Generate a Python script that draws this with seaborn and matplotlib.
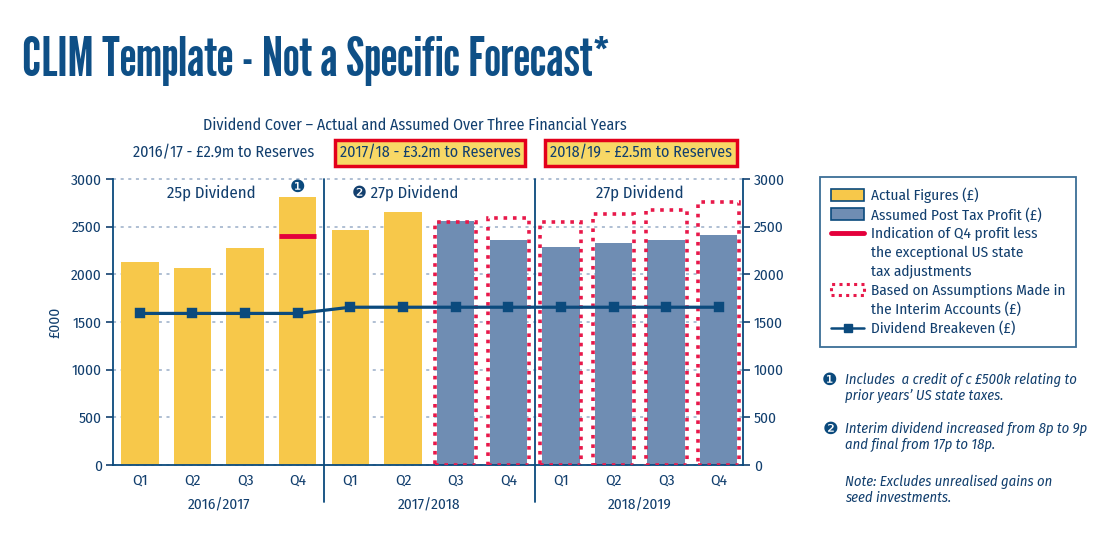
import numpy as np
import pandas as pd
import matplotlib
matplotlib.use("Agg")
import matplotlib.pyplot as plt
import seaborn as sns
from matplotlib.patches import Patch
from matplotlib.lines import Line2D
import matplotlib.transforms as mtrans

# ---------------- data ----------------
years = ["2016/2017", "2017/2018", "2018/2019"]
quarters = ["Q1", "Q2", "Q3", "Q4"]
profit = [2130, 2070, 2280, 2810, 2470, 2650, 2560, 2360, 2290, 2330, 2360, 2410]
kind = ["Actual Figures (£)"] * 6 + ["Assumed Post Tax Profit (£)"] * 6
interim = [None] * 6 + [2550, 2590, 2550, 2630, 2680, 2760]
breakeven = [1590, 1590, 1590, 1590, 1655, 1655, 1655, 1655, 1655, 1655, 1655, 1655]
q4_ex_adjust = 2400
dividend_labels = ["25p Dividend", "❷ 27p Dividend", "27p Dividend"]
reserves = ["2016/17 - £2.9m to Reserves", "2017/18 - £3.2m to Reserves", "2018/19 - £2.5m to Reserves"]
yticks = [0, 500, 1000, 1500, 2000, 2500, 3000]

keys = [f"{y} {q}" for y in years for q in quarters]
df = pd.DataFrame({"key": keys, "profit": profit, "kind": kind,
                   "interim": interim, "breakeven": breakeven})

# ---------------- style ----------------
NAVY = "#123f6e"
LINE = "#0b4a7d"
YELLOW = "#f7c84a"
BLUE = "#6f8db3"
RED = "#e4003b"
DOTRED = "#e8194a"
GRID = "#9aaec8"

sns.set_theme(style="white")
FAM = ["Fira Sans Condensed", "DejaVu Sans"]
TITLE_FAM = ["League Gothic", "Fira Sans Extra Condensed", "DejaVu Sans"]
plt.rcParams["font.family"] = FAM
plt.rcParams["text.color"] = NAVY

W, H = 1099, 538
fig = plt.figure(figsize=(W / 100, H / 100), dpi=100)
ax = fig.add_axes([113 / W, 1 - 465 / H, 630 / W, 286 / H])

# bars
sns.barplot(data=df, x="key", y="profit", hue="kind", order=keys, dodge=False,
            palette={"Actual Figures (£)": YELLOW, "Assumed Post Tax Profit (£)": BLUE},
            saturation=1, width=0.71, errorbar=None, legend=False, ax=ax, zorder=2, linewidth=0)
# dotted assumption boxes
sns.barplot(data=df.dropna(subset=["interim"]), x="key", y="interim", order=keys,
            fill=False, color=DOTRED, saturation=1, width=0.78, errorbar=None, ax=ax,
            linewidth=2.6, linestyle=(0, (1, 1.6)), zorder=3)
for p in ax.patches[-6:]:
    p.set_edgecolor(DOTRED)
    p.set_facecolor("none")

# Q4 underlying line
ax.hlines(q4_ex_adjust, 3 - 0.355, 3 + 0.355, color=RED, lw=3.5, zorder=4)

# breakeven line
sns.pointplot(data=df, x="key", y="breakeven", order=keys, color=LINE, markers="s",
              markersize=6, linewidth=2.3, errorbar=None, ax=ax, zorder=5)

ax.set_xlim(-0.51, 11.46)
ax.set_ylim(0, 3000)
ax.set_xlabel("")
ax.set_ylabel("£000", fontsize=11, color=NAVY, labelpad=6)
ax.set_yticks(yticks)
ax.set_yticklabels([str(t) for t in yticks])
ax.set_xticks(range(12))
ax.set_xticklabels(quarters * 3)
ax.tick_params(axis="y", which="both", direction="out", length=5, width=1.2,
               color=NAVY, labelcolor=NAVY, labelsize=11, left=True, right=True,
               labelleft=True, labelright=True, pad=3)
ax.tick_params(axis="x", length=0, labelcolor=NAVY, labelsize=11, pad=6)

ax.yaxis.grid(True, color=GRID, linestyle=(0, (2, 3)), linewidth=1.1)
ax.set_axisbelow(True)
for gl in ax.get_ygridlines():
    gl.set_clip_on(False)

for s in ["left", "right", "bottom"]:
    ax.spines[s].set_visible(True)
    ax.spines[s].set_color(LINE)
    ax.spines[s].set_linewidth(1.3)
ax.spines["top"].set_visible(False)

# year separators
bounds = np.cumsum([len(quarters)] * len(years))[:-1] - 0.5
trans = mtrans.blended_transform_factory(ax.transData, ax.transAxes)
for b in bounds:
    ax.plot([b, b], [-0.13, 1.0], transform=trans, color=LINE, lw=1.3, clip_on=False, zorder=1)

# year labels
for i, y in enumerate(years):
    ax.text(i * 4 + 1.5, -0.14, y, transform=trans, ha="center", va="center",
            fontsize=11, color=NAVY)

# dividend labels
ax.text(1.35, 0.951, dividend_labels[0], transform=trans, ha="center", va="center", fontsize=12, color=NAVY)
ax.text(3.0, 0.972, "❶", transform=trans, ha="center", va="center", fontsize=12.5, color=LINE,
        family=["DejaVu Sans"])
ax.text(5.05, 0.951, dividend_labels[1], transform=trans, ha="center", va="center", fontsize=12, color=NAVY)
ax.text(9.5, 0.951, dividend_labels[2], transform=trans, ha="center", va="center", fontsize=12, color=NAVY)

# title & headers
fig.text(22 / W, 1 - 61 / H, "CLIM Template - Not a Specific Forecast*", fontsize=39,
         family=TITLE_FAM, color="#0e4f86", ha="left", va="center")
fig.text(415 / W, 1 - 125 / H, "Dividend Cover – Actual and Assumed Over Three Financial Years",
         fontsize=11.5, ha="center", va="center", color=NAVY)
fig.text(224 / W, 1 - 153 / H, reserves[0], fontsize=11.5, ha="center", va="center", color=NAVY)
for cx, txt in [(430, reserves[1]), (641, reserves[2])]:
    fig.text(cx / W, 1 - 153 / H, txt, fontsize=11.5, ha="center", va="center", color=NAVY,
             bbox=dict(boxstyle="square,pad=0.3", facecolor="#f8d866", edgecolor="#e3001b", linewidth=2.5))

# legend
handles = [
    Patch(facecolor=YELLOW, edgecolor=LINE, linewidth=1.2),
    Patch(facecolor=BLUE, edgecolor=LINE, linewidth=1.2),
    Line2D([], [], color=RED, lw=3.5),
    Line2D([], [], linestyle="none"),
    Line2D([], [], linestyle="none"),
    Patch(facecolor="none", edgecolor=DOTRED, linewidth=2.2, linestyle=(0, (1, 1.4))),
    Line2D([], [], linestyle="none"),
    Line2D([], [], color=LINE, lw=1.8, marker="s", markersize=6),
]
labels = ["Actual Figures (£)", "Assumed Post Tax Profit (£)", "Indication of Q4 profit less",
          "the exceptional US state", "tax adjustments", "Based on Assumptions Made in",
          "the Interim Accounts (£)", "Dividend Breakeven (£)"]
leg = fig.legend(handles, labels, loc="upper left", bbox_to_anchor=(820 / W, 1 - 177 / H),
                 frameon=True, fancybox=False, fontsize=11, handlelength=2.2, handleheight=0.8,
                 handletextpad=0.45, labelspacing=0.3, borderpad=0.7, borderaxespad=0)
leg.get_frame().set_edgecolor(LINE)
leg.get_frame().set_linewidth(1.3)
for t in leg.get_texts():
    t.set_color(NAVY)

# notes
notes = [
    (380, "❶", "Includes  a credit of c £500k relating to"),
    (396, None, "prior years’ US state taxes."),
    (429, "❷", "Interim dividend increased from 8p to 9p"),
    (445, None, "and final from 17p to 18p."),
    (482, None, "Note: Excludes unrealised gains on"),
    (498, None, "seed investments."),
]
for y, icon, txt in notes:
    if icon:
        fig.text(830 / W, 1 - y / H, icon, fontsize=12.5, color=LINE, ha="center", va="center",
                 family=["DejaVu Sans"])
    fig.text(845 / W, 1 - y / H, txt, fontsize=10.5, style="italic", color=NAVY,
             ha="left", va="center")

fig.savefig("out.png", dpi=100)
